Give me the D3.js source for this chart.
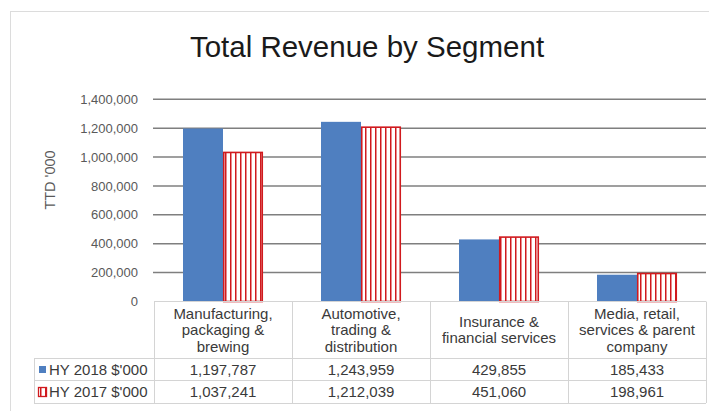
<!DOCTYPE html>
<html>
<head>
<meta charset="utf-8">
<script src="https://cdn.jsdelivr.net/npm/d3@7"></script>
<style>
  body { margin: 0; background: #fff; }
  svg { display: block; font-family: "Liberation Sans", Arial, sans-serif; }
</style>
</head>
<body>
<div id="chart"></div>
<script>
// Chart data
const categories = [
    ["Manufacturing,", "packaging &", "brewing"],
    ["Automotive,", "trading &", "distribution"],
    ["Insurance &", "financial services"],
    ["Media, retail,", "services & parent", "company"]
];
const seriesNames = ["HY 2018 $'000", "HY 2017 $'000"];
const hy2018 = [1197787, 1243959, 429855, 185433];
const hy2017 = [1037241, 1212039, 451060, 198961];
const yTicks = [0, 200000, 400000, 600000, 800000, 1000000, 1200000, 1400000];

const width = 709, height = 411;
const blue = "#4f7fc0";
const red = "#d01a1e";
const gridColor = "#7f7f7f";
const tableColor = "#d4d4d4";
const textColor = "#3a3a3a";

const svg = d3.select("#chart").append("svg")
    .attr("width", width)
    .attr("height", height);

// Vertical stripe pattern for the 2017 series
const defs = svg.append("defs");
const pat = defs.append("pattern")
    .attr("id", "stripes")
    .attr("patternUnits", "userSpaceOnUse")
    .attr("width", 5)
    .attr("height", 10);
pat.append("rect").attr("width", 5).attr("height", 10).attr("fill", "#fff");
pat.append("rect").attr("x", 0).attr("width", 1.5).attr("height", 10).attr("fill", red);

// Outer chart border
svg.append("rect")
    .attr("x", 10.5).attr("y", 11.5)
    .attr("width", 720).attr("height", 420)
    .attr("fill", "none")
    .attr("stroke", "#dcdcdc");

// Title
svg.append("text")
    .attr("x", 367).attr("y", 57)
    .attr("text-anchor", "middle")
    .attr("font-size", 29.5)
    .attr("fill", "#1a1a1a")
    .text("Total Revenue by Segment");

// Scales
const plotLeft = 154, plotRight = 706;
const x0 = d3.scaleBand()
    .domain(d3.range(categories.length))
    .range([plotLeft, plotRight]);
const x1 = d3.scaleBand()
    .domain(seriesNames)
    .range([0, x0.bandwidth()])
    .paddingOuter(0.725);
const y = d3.scaleLinear()
    .domain([0, 1400000])
    .range([301.5, 99.3]);

// Gridlines (not for zero, the table border sits there)
svg.append("g")
    .selectAll("line")
    .data(yTicks.filter(d => d > 0))
    .join("line")
    .attr("x1", plotLeft - 1).attr("x2", plotRight)
    .attr("y1", d => y(d)).attr("y2", d => y(d))
    .attr("stroke", gridColor)
    .attr("stroke-width", 1.5);

// Y axis labels
const fmt = d3.format(",");
svg.append("g")
    .selectAll("text")
    .data(yTicks)
    .join("text")
    .attr("x", 138)
    .attr("y", d => y(d))
    .attr("dy", "0.35em")
    .attr("text-anchor", "end")
    .attr("font-size", 13)
    .attr("fill", "#595959")
    .text(d => fmt(d));

// Y axis title
svg.append("text")
    .attr("transform", "translate(55,180) rotate(-90)")
    .attr("text-anchor", "middle")
    .attr("font-size", 14.5)
    .attr("fill", "#595959")
    .text("TTD '000");

// Bars
const series = [
    { name: seriesNames[0], values: hy2018 },
    { name: seriesNames[1], values: hy2017 }
];
series.forEach((s, si) => {
    svg.append("g")
        .selectAll("rect")
        .data(s.values)
        .join("rect")
        .attr("x", (d, i) => x0(i) + x1(s.name) + (si === 1 ? 0.75 : 0))
        .attr("y", d => y(d) + (si === 1 ? 0.75 : 0))
        .attr("width", x1.bandwidth() - (si === 1 ? 1.5 : 0))
        .attr("height", d => y(0) - y(d) - (si === 1 ? 0.75 : 0))
        .attr("fill", si === 0 ? blue : "url(#stripes)")
        .attr("stroke", si === 0 ? "none" : red)
        .attr("stroke-width", 1.6);
});

// Data table
const headerTop = 301.5, row1Top = 358, row2Top = 380, tableBottom = 403;
const legendLeft = 34;
const table = svg.append("g")
    .attr("stroke", tableColor)
    .attr("stroke-width", 1);

table.append("line")
    .attr("x1", plotLeft).attr("x2", plotRight)
    .attr("y1", headerTop).attr("y2", headerTop);
[row1Top, row2Top, tableBottom].forEach(yy => {
    table.append("line")
        .attr("x1", legendLeft).attr("x2", plotRight)
        .attr("y1", yy + 0.5).attr("y2", yy + 0.5);
});
table.append("line")
    .attr("x1", legendLeft + 0.5).attr("x2", legendLeft + 0.5)
    .attr("y1", row1Top).attr("y2", tableBottom);
d3.range(categories.length + 1).forEach(i => {
    const xx = plotLeft + i * x0.bandwidth();
    table.append("line")
        .attr("x1", xx + 0.5).attr("x2", xx + 0.5)
        .attr("y1", headerTop).attr("y2", tableBottom);
});

// Category headers
const lineH = 16.5;
const headerMid = (headerTop + row1Top) / 2;
svg.append("g")
    .selectAll("text")
    .data(categories)
    .join("text")
    .attr("text-anchor", "middle")
    .attr("font-size", 15)
    .attr("fill", textColor)
    .each(function (lines, i) {
        const cx = x0(i) + x0.bandwidth() / 2;
        const startY = headerMid - (lines.length - 1) * lineH / 2;
        d3.select(this).selectAll("tspan")
            .data(lines)
            .join("tspan")
            .attr("x", cx)
            .attr("y", (d, j) => startY + j * lineH)
            .attr("dy", "0.35em")
            .text(d => d);
    });

// Value rows
const rowMids = [(row1Top + row2Top) / 2 + 0.5, (row2Top + tableBottom) / 2 + 0.5];
series.forEach((s, si) => {
    svg.append("g")
        .selectAll("text")
        .data(s.values)
        .join("text")
        .attr("x", (d, i) => x0(i) + x0.bandwidth() / 2)
        .attr("y", rowMids[si])
        .attr("dy", "0.35em")
        .attr("text-anchor", "middle")
        .attr("font-size", 15)
        .attr("fill", textColor)
        .text(d => fmt(d));

    // Legend key
    if (si === 0) {
        svg.append("rect")
            .attr("x", 39).attr("y", rowMids[si] - 3.5)
            .attr("width", 7).attr("height", 7)
            .attr("fill", blue);
    } else {
        svg.append("rect")
            .attr("x", 38.5).attr("y", rowMids[si] - 4.5)
            .attr("width", 8).attr("height", 9)
            .attr("fill", "url(#stripes)")
            .attr("stroke", red)
            .attr("stroke-width", 1.3);
    }
    svg.append("text")
        .attr("x", 49)
        .attr("y", rowMids[si])
        .attr("dy", "0.35em")
        .attr("font-size", 15)
        .attr("fill", textColor)
        .text(s.name);
});
</script>
</body>
</html>
